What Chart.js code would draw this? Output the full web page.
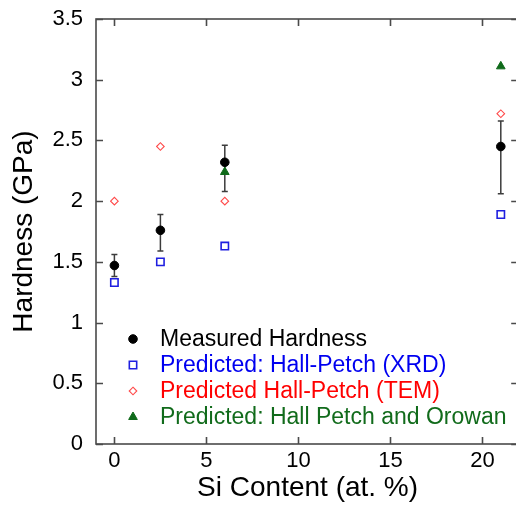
<!DOCTYPE html>
<html>
<head>
<meta charset="utf-8">
<script src="https://cdn.jsdelivr.net/npm/chart.js"></script>
<style>
  html, body { margin: 0; padding: 0; background: #fff; overflow: hidden; }
  #wrap { width: 516px; height: 508px; overflow: hidden; }
</style>
</head>
<body>
<div id="wrap"><canvas id="hardness" width="526" height="508"></canvas></div>
<script>
// data
const siContent = [0, 2.5, 6, 21];
const measured = [1.47, 1.76, 2.32, 2.45];
const measuredHigh = [1.56, 1.89, 2.46, 2.66];
const measuredLow = [1.38, 1.59, 2.08, 2.06];
const hallPetchXRD = [1.33, 1.50, 1.63, 1.89];
const hallPetchTEM = [2.0, 2.45, 2.0, 2.72];
const orowanSi = [6, 21];
const orowan = [2.24, 3.11];

const xTicks = [0, 5, 10, 15, 20];
const yTicks = [0, 0.5, 1, 1.5, 2, 2.5, 3, 3.5];
const legendLabels = [
  "Measured Hardness",
  "Predicted: Hall-Petch (XRD)",
  "Predicted Hall-Petch (TEM)",
  "Predicted: Hall Petch and Orowan"
];

const FONT = "'Liberation Sans', Arial, sans-serif";
const frameColor = "#4a4a4a";

function pts(xs, ys) {
  return xs.map((x, i) => ({ x: x, y: ys[i] }));
}

const datasets = [
  {
    label: legendLabels[0],
    data: pts(siContent, measured),
    pointStyle: "circle",
    pointRadius: 4.3,
    backgroundColor: "#000",
    borderColor: "#000",
    borderWidth: 1,
    order: 1
  },
  {
    label: legendLabels[1],
    data: pts(siContent, hallPetchXRD),
    pointStyle: "rect",
    pointRadius: 5.2,
    backgroundColor: "rgba(0,0,0,0)",
    borderColor: "#1f1fe0",
    borderWidth: 1.6,
    order: 2
  },
  {
    label: legendLabels[2],
    data: pts(siContent, hallPetchTEM),
    pointStyle: "rectRot",
    pointRadius: 3.8,
    backgroundColor: "rgba(0,0,0,0)",
    borderColor: "#ff4a4a",
    borderWidth: 1.1,
    order: 3
  },
  {
    label: legendLabels[3],
    data: pts(orowanSi, orowan),
    pointStyle: "triangle",
    pointRadius: 5,
    backgroundColor: "#0f6a1a",
    borderColor: "#0f6a1a",
    borderWidth: 1,
    order: 0
  }
];

const legendColors = ["#000000", "#0000f0", "#ff0000", "#116b1b"];

function drawMarker(ctx, style, x, y, ds) {
  ctx.save();
  ctx.lineWidth = ds.borderWidth;
  ctx.strokeStyle = ds.borderColor;
  ctx.fillStyle = ds.backgroundColor;
  ctx.beginPath();
  const r = ds.pointRadius;
  if (style === "circle") {
    ctx.arc(x, y, r, 0, Math.PI * 2);
  } else if (style === "rect") {
    const s = r * Math.SQRT1_2;
    ctx.rect(x - s, y - s, 2 * s, 2 * s);
  } else if (style === "rectRot") {
    ctx.moveTo(x, y - r); ctx.lineTo(x + r, y); ctx.lineTo(x, y + r); ctx.lineTo(x - r, y); ctx.closePath();
  } else if (style === "triangle") {
    ctx.moveTo(x, y - r);
    ctx.lineTo(x + r * 0.866, y + r * 0.5);
    ctx.lineTo(x - r * 0.866, y + r * 0.5);
    ctx.closePath();
  }
  ctx.fill();
  ctx.stroke();
  ctx.restore();
}

const decorations = {
  id: "decorations",
  beforeDatasetsDraw(chart) {
    const ctx = chart.ctx;
    const xs = chart.scales.x, ys = chart.scales.y;
    ctx.save();
    ctx.strokeStyle = "#3c3c3c";
    ctx.lineWidth = 1.5;
    siContent.forEach((si, i) => {
      const px = xs.getPixelForValue(si);
      const top = ys.getPixelForValue(measuredHigh[i]);
      const bot = ys.getPixelForValue(measuredLow[i]);
      ctx.beginPath();
      ctx.moveTo(px, top); ctx.lineTo(px, bot);
      ctx.moveTo(px - 3, top); ctx.lineTo(px + 3, top);
      ctx.moveTo(px - 3, bot); ctx.lineTo(px + 3, bot);
      ctx.stroke();
    });
    ctx.restore();
  },
  afterDraw(chart) {
    const ctx = chart.ctx;
    const a = chart.chartArea;
    const xs = chart.scales.x, ys = chart.scales.y;
    ctx.save();
    ctx.strokeStyle = frameColor;
    ctx.lineWidth = 1.6;
    ctx.strokeRect(a.left, a.top, a.right - a.left, a.bottom - a.top);
    ctx.beginPath();
    xTicks.forEach(v => {
      const px = Math.round(xs.getPixelForValue(v)) + 0.5;
      ctx.moveTo(px, a.bottom); ctx.lineTo(px, a.bottom - 7);
      ctx.moveTo(px, a.top); ctx.lineTo(px, a.top + 7);
    });
    yTicks.forEach(v => {
      const py = Math.round(ys.getPixelForValue(v)) + 0.5;
      ctx.moveTo(a.left, py); ctx.lineTo(a.left + 7, py);
      ctx.moveTo(a.right, py); ctx.lineTo(a.right - 8, py);
    });
    ctx.stroke();

    // legend inside the plot
    ctx.font = "23px " + FONT;
    ctx.textBaseline = "middle";
    ctx.textAlign = "left";
    legendLabels.forEach((label, i) => {
      const y = 339 + i * 26;
      const ds = chart.data.datasets[i];
      drawMarker(ctx, ds.pointStyle, 133, y, ds);
      ctx.fillStyle = legendColors[i];
      ctx.fillText(label, 160, y + 1);
    });
    ctx.restore();
  }
};

new Chart(document.getElementById("hardness"), {
  type: "scatter",
  data: { datasets: datasets },
  options: {
    responsive: false,
    animation: false,
    layout: { padding: { top: 19, right: 4, left: 0, bottom: 0 } },
    plugins: {
      legend: { display: false },
      tooltip: { enabled: false }
    },
    scales: {
      x: {
        type: "linear",
        min: -1,
        max: 22,
        afterBuildTicks: s => { s.ticks = xTicks.map(v => ({ value: v })); },
        afterFit: s => { s.height = 64; s.paddingLeft = 0; s.paddingRight = 0; },
        grid: { display: false, drawTicks: false },
        border: { display: false },
        ticks: {
          color: "#000",
          font: { family: FONT, size: 22 },
          padding: 4,
          maxRotation: 0
        },
        title: {
          display: true,
          text: "Si Content (at. %)",
          color: "#000",
          font: { family: FONT, size: 28 },
          padding: 3
        }
      },
      y: {
        type: "linear",
        min: 0,
        max: 3.5,
        afterBuildTicks: s => { s.ticks = yTicks.map(v => ({ value: v })); },
        afterFit: s => { s.width = 96; s.paddingTop = 0; s.paddingBottom = 0; },
        grid: { display: false, drawTicks: false },
        border: { display: false },
        ticks: {
          color: "#000",
          font: { family: FONT, size: 22 },
          padding: 13,
          callback: v => String(v)
        },
        title: {
          display: true,
          text: "Hardness (GPa)",
          color: "#000",
          font: { family: FONT, size: 28 },
          padding: 7
        }
      }
    }
  },
  plugins: [decorations]
});
</script>
</body>
</html>
